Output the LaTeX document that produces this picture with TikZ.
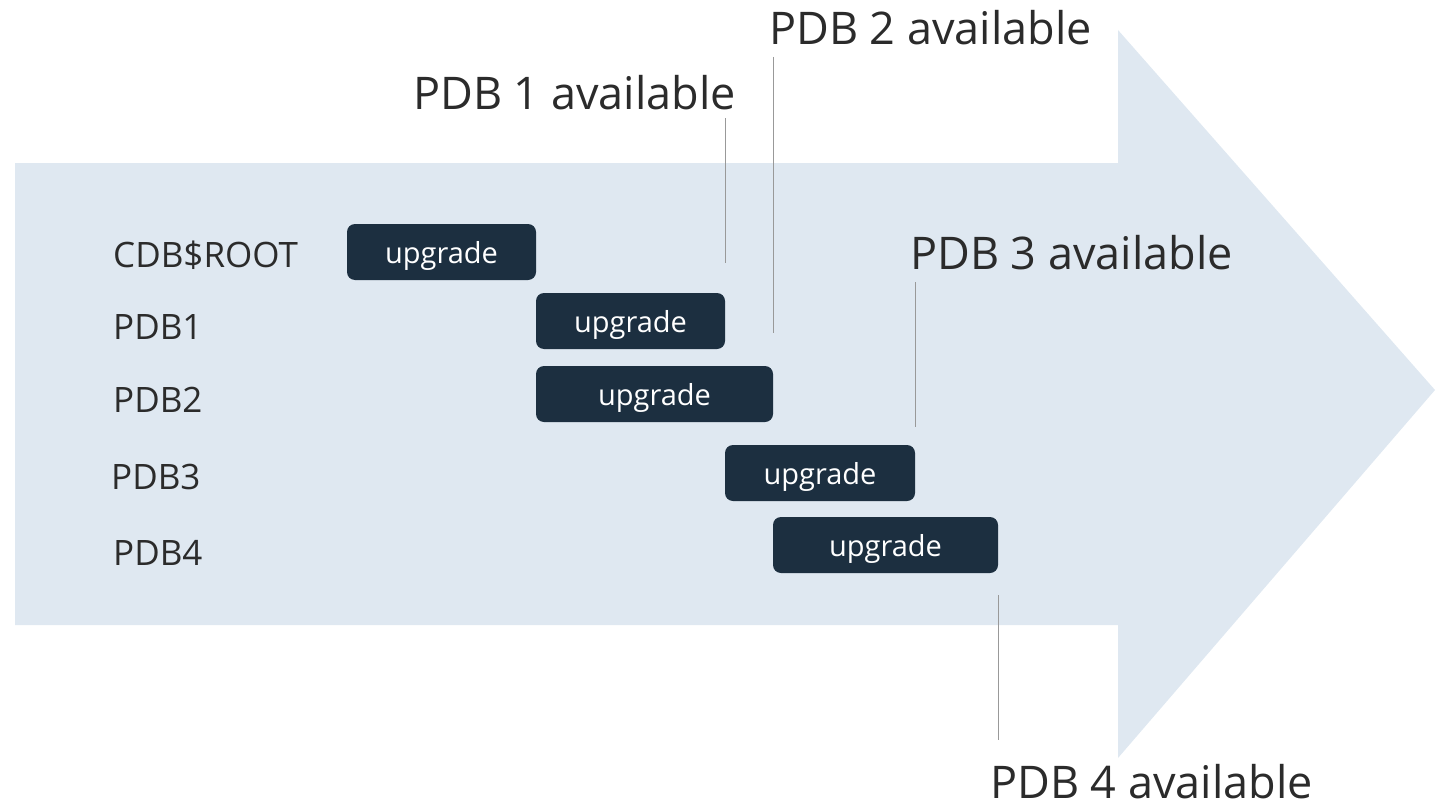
\documentclass[tikz,border=0pt]{standalone}
\usepackage{fontspec}
\setmainfont{Open Sans}
\usetikzlibrary{positioning}
\definecolor{bandblue}{HTML}{DFE8F1}
\definecolor{boxnavy}{HTML}{1C2F40}
\definecolor{textgray}{HTML}{2B2B2B}

\begin{document}
\begin{tikzpicture}[x=1pt, y=-1pt,
		upg/.style = {fill=boxnavy, text=white, rounded corners=8pt, minimum height=56pt, inner sep=0pt, text height=22pt, text depth=0pt, font=\fontsize{29}{33}\selectfont},
		row/.style = {anchor=west, text=textgray, inner sep=0pt, font=\fontsize{35}{40}\selectfont},
		avail/.style = {anchor=west, text=textgray, inner sep=0pt, font=\fontsize{45}{51}\selectfont},
		tick/.style = {draw=gray!80, line width=0.8pt}]
		\useasboundingbox (0,0) rectangle (1438,808);
		\fill[bandblue] (15,163) -- (1118,163) -- (1118,30) -- (1435,390) -- (1118,758) -- (1118,625) -- (15,625) -- cycle;
		\node[row] (r0) at (113,255) {CDB\$ROOT};
		\node[row] (r1) at (113,327) {PDB1};
		\node[row] (r2) at (113,400) {PDB2};
		\node[row] (r3) at (111,477) {PDB3};
		\node[row] (r4) at (113,553) {PDB4};
		\node[upg, minimum width=189pt] (u0) at (441.5,252) {upgrade};
		\node[upg, minimum width=189pt] (u1) at (630.5,321) {upgrade};
		\node[upg, minimum width=237pt] (u2) at (654.5,394) {upgrade};
		\node[upg, minimum width=190pt] (u3) at (820,473) {upgrade};
		\node[upg, minimum width=225pt] (u4) at (885.5,545) {upgrade};
		\node[avail] (a1) at (413,93) {PDB 1 available};
		\node[avail] (a2) at (769,28) {PDB 2 available};
		\node[avail] (a3) at (910,253) {PDB 3 available};
		\node[avail] (a4) at (990,782) {PDB 4 available};
		\coordinate (t1) at (725,118);
		\coordinate (b1) at (725,263);
		\coordinate (t2) at (773,57);
		\coordinate (b2) at (773,333);
		\coordinate (t3) at (915,282);
		\coordinate (b3) at (915,427);
		\coordinate (t4) at (998,595);
		\coordinate (b4) at (998,740);
		\draw[tick] (t1) -- (b1);
		\draw[tick] (t2) -- (b2);
		\draw[tick] (t3) -- (b3);
		\draw[tick] (t4) -- (b4);
	\end{tikzpicture}
\end{document}
